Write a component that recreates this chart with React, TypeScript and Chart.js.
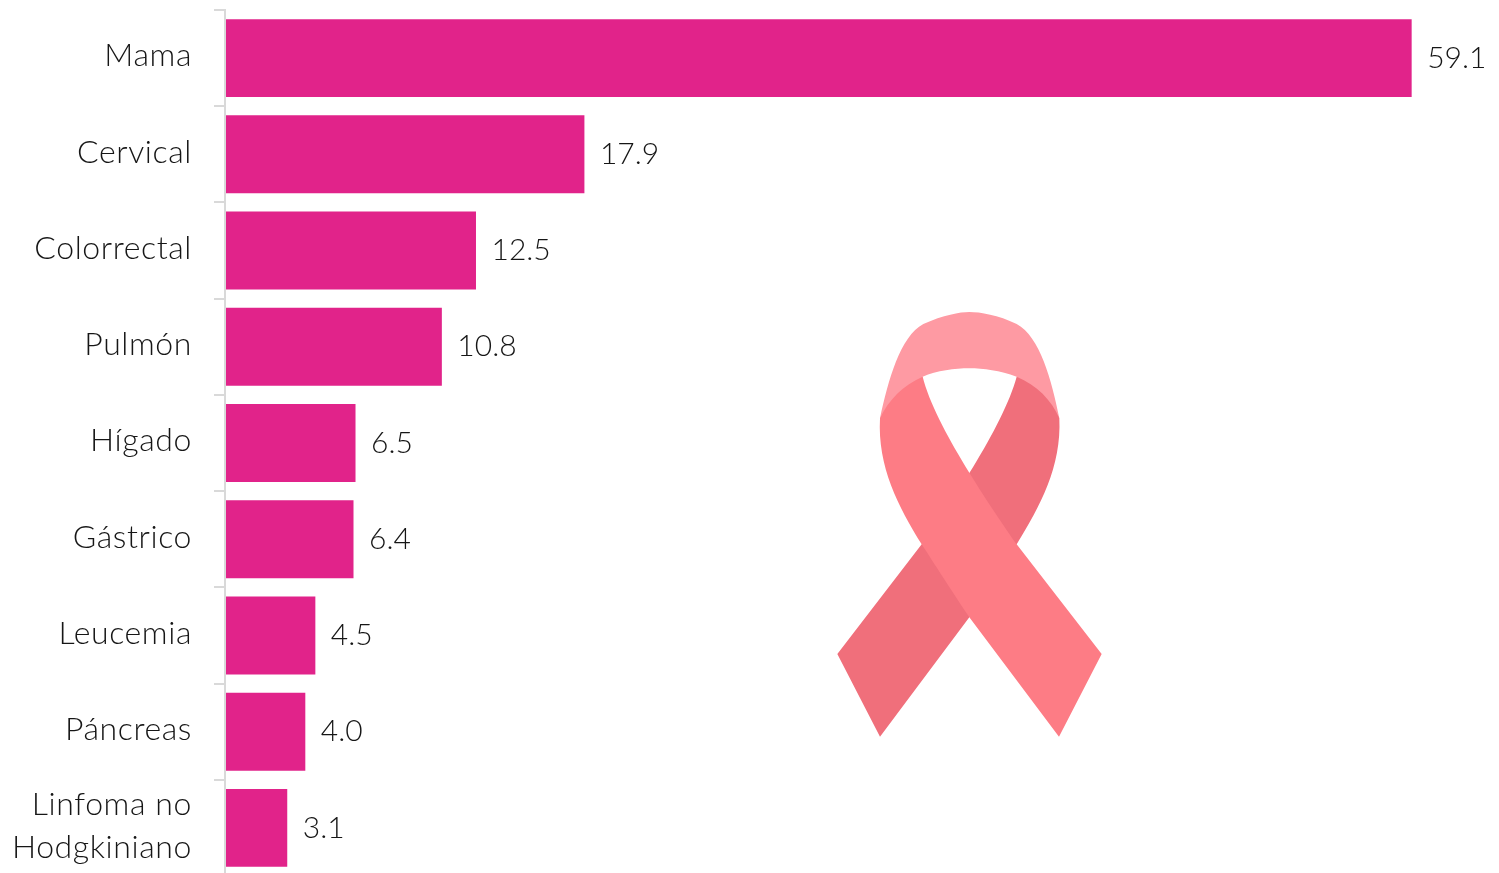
import React, { useEffect, useRef } from "react";
import { Chart, registerables } from "chart.js";

Chart.register(...registerables);

const categories: (string | string[])[] = ["Mama", "Cervical", "Colorrectal", "Pulmón", "Hígado", "Gástrico", "Leucemia", "Páncreas", ["Linfoma no", "Hodgkiniano"]];
const values = [59.1, 17.9, 12.5, 10.8, 6.5, 6.4, 4.5, 4.0, 3.1];
const valueLabels = ["59.1", "17.9", "12.5", "10.8", "6.5", "6.4", "4.5", "4.0", "3.1"];

const FONT = "Lato";
const TEXT = "#161616";

function ribbonPath(ctx: CanvasRenderingContext2D, cmds: number[][]) {
  const X = (v: number) => 820 + v / 3;
  const Y = (v: number) => 300 + v / 3;
  ctx.beginPath();
  cmds.forEach((c, i) => {
    if (i === 0) ctx.moveTo(X(c[0]), Y(c[1]));
    else if (c.length === 2) ctx.lineTo(X(c[0]), Y(c[1]));
    else ctx.bezierCurveTo(X(c[0]), Y(c[1]), X(c[2]), Y(c[3]), X(c[4]), Y(c[5]));
  });
  ctx.closePath();
  ctx.fill();
}

const ribbonPlugin = {
  id: "ribbon",
  afterDraw(chart: any) {
    const ctx: CanvasRenderingContext2D = chart.ctx;
    ctx.save();
    ctx.fillStyle = "#FE9AA3";
    ribbonPath(ctx, [[180, 355], [205, 240, 240, 110, 310, 72], [370, 45, 420, 36, 448, 36], [480, 36, 535, 45, 590, 72], [660, 110, 695, 240, 718, 355], [690, 340, 630, 280, 590, 230], [540, 212, 490, 205, 448, 205], [405, 205, 350, 212, 308, 230], [270, 290, 210, 340, 180, 355]]);
    ctx.fillStyle = "#F06F7B";
    ribbonPath(ctx, [[52, 1062], [305, 733], [380, 630, 550, 380, 590, 230], [650, 255, 695, 300, 718, 355], [725, 500, 660, 620, 590, 733], [520, 850, 450, 950, 448, 952], [180, 1310]]);
    ctx.fillStyle = "#FD7C85";
    ribbonPath(ctx, [[308, 230], [345, 380, 520, 630, 590, 733], [845, 1062], [717, 1310], [448, 952], [380, 850, 310, 740, 305, 733], [235, 620, 172, 500, 180, 355], [205, 300, 250, 255, 308, 230]]);
    ctx.restore();
  },
};

const spacingPlugin = {
  id: "labelSpacing",
  beforeDraw(chart: any) {
    (chart.ctx as any).letterSpacing = "0.6px";
  },
};

const valuePlugin = {
  id: "valueLabels",
  afterDatasetsDraw(chart: any) {
    const ctx: CanvasRenderingContext2D = chart.ctx;
    const meta = chart.getDatasetMeta(0);
    ctx.save();
    (ctx as any).letterSpacing = "0px";
    ctx.font = `300 30px ${FONT}`;
    ctx.fillStyle = TEXT;
    ctx.textAlign = "left";
    ctx.textBaseline = "middle";
    meta.data.forEach((bar: any, i: number) => {
      ctx.fillText(valueLabels[i], bar.x + 15.5, bar.y);
    });
    ctx.restore();
  },
};

export default function App() {
  const ref = useRef<HTMLCanvasElement>(null);
  useEffect(() => {
    document.body.style.margin = "0";
    const chart = new Chart(ref.current!, {
      type: "bar",
      data: {
        labels: categories as any,
        datasets: [{ data: values, backgroundColor: "#E1238A", barPercentage: 0.81, categoryPercentage: 1 }],
      },
      options: {
        indexAxis: "y",
        responsive: false,
        animation: false,
        devicePixelRatio: 1,
        layout: { padding: { top: 10, left: 0, right: 0, bottom: 4 } },
        plugins: { legend: { display: false }, tooltip: { enabled: false } },
        scales: {
          x: { display: false, min: 0, max: 63.45 },
          y: {
            afterFit(scale: any) { scale.width = 225; scale.paddingTop = 0; scale.paddingBottom = 0; },
            border: { color: "#d9d9d9", width: 2, z: 1 },
            grid: { drawOnChartArea: false, drawTicks: true, tickLength: 11, color: "#d9d9d9", lineWidth: 2 },
            ticks: { color: TEXT, padding: 22, labelOffset: -2, font: { family: FONT, size: 32, weight: "300", lineHeight: 1.34 } as any, autoSkip: false },
          },
        },
      },
      plugins: [spacingPlugin, valuePlugin, ribbonPlugin],
    } as any);
    return () => chart.destroy();
  }, []);
  return (
    <div style={{ position: "fixed", left: 0, top: 0, width: 1499, height: 873, overflow: "hidden", background: "#fff" }}>
      <canvas ref={ref} width={1499} height={880} style={{ display: "block" }} />
    </div>
  );
}
